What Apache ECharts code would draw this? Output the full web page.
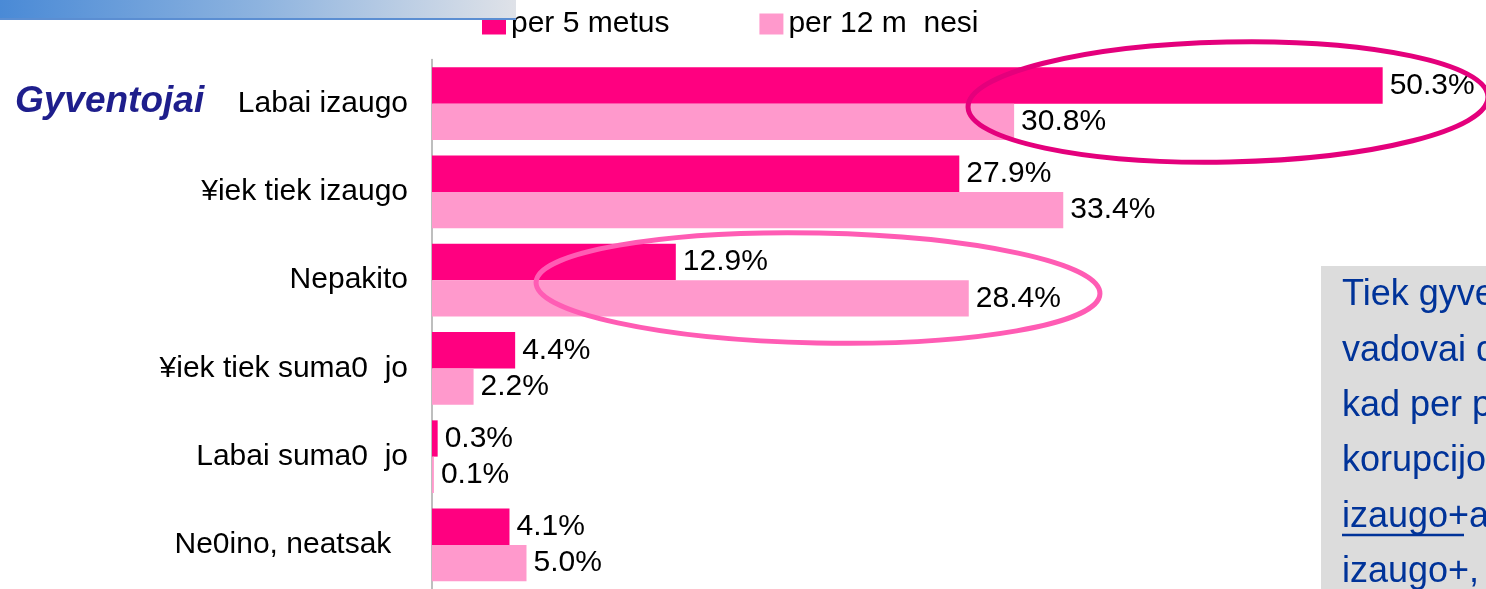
<!DOCTYPE html>
<html>
<head>
<meta charset="utf-8">
<title>Gyventojai</title>
<script src="https://cdn.jsdelivr.net/npm/echarts@6/dist/echarts.min.js"></script>
<style>
  html, body { margin: 0; padding: 0; background: #fff; }
  #chart { width: 1486px; height: 589px; }
</style>
</head>
<body>
<div id="chart"></div>
<script>
(function () {
  'use strict';

  // ==================== 数据 ====================

  var categories = ['Labai izaugo', '¥iek tiek izaugo', 'Nepakito', '¥iek tiek suma0  jo', 'Labai suma0  jo', 'Ne0ino, neatsak  '];
  var seriesNames = ['per 5 metus', 'per 12 m  nesi'];
  var per5Years = [50.3, 27.9, 12.9, 4.4, 0.3, 4.1];
  var per12Months = [30.8, 33.4, 28.4, 2.2, 0.1, 5.0];
  var noteLines = ['Tiek gyve', 'vadovai d', 'kad per p', 'korupcijo', 'izaugo+a', 'izaugo+,'];

  var FONT = '"Liberation Sans", Arial, sans-serif';
  var DARK = '#FF0080';
  var LIGHT = '#FF99CC';

  // ==================== 装饰图形 ====================

  var graphics = [
    // 左上角标题条（被截断）
    {
      type: 'rect', z: 100,
      shape: { x: 0, y: 0, width: 516, height: 19 },
      style: {
        fill: new echarts.graphic.LinearGradient(0, 0, 1, 0, [
          { offset: 0, color: '#4A8AD6' },
          { offset: 0.5, color: '#8DB3DF' },
          { offset: 1, color: '#DFE2E8' }
        ])
      }
    },
    { type: 'rect', z: 100, shape: { x: 0, y: 18, width: 516, height: 2 }, style: { fill: '#5B8ED2' } },
    // Gyventojai
    {
      type: 'text', x: 15, y: 102, z: 10,
      style: {
        text: 'Gyventojai', fill: '#1E1E8C', verticalAlign: 'middle',
        font: 'italic bold 37px ' + FONT
      }
    },
    // 椭圆标注
    {
      type: 'ellipse', x: 1228, y: 102, rotation: 0.02, z: 20,
      shape: { cx: 0, cy: 0, rx: 260, ry: 60 },
      style: { fill: 'none', stroke: '#E4007C', lineWidth: 5 }
    },
    {
      type: 'ellipse', x: 818, y: 288, rotation: -0.02, z: 20,
      shape: { cx: 0, cy: 0, rx: 282, ry: 55 },
      style: { fill: 'none', stroke: '#FF5CB4', lineWidth: 5 }
    },
    // 右侧灰色说明框
    { type: 'rect', z: 5, shape: { x: 1321, y: 266, width: 200, height: 340 }, style: { fill: '#DCDCDC' } }
  ];

  noteLines.forEach(function (line, i) {
    graphics.push({
      type: 'text', x: 1342, y: 308 + i * 55.3 - 12.5, z: 6,
      style: { text: line, fill: '#003399', verticalAlign: 'middle', font: '36px ' + FONT }
    });
  });
  // izaugo+ 下划线
  graphics.push({
    type: 'line', z: 6,
    shape: { x1: 1342, y1: 535, x2: 1464, y2: 535 },
    style: { stroke: '#003399', lineWidth: 2.5 }
  });

  // ==================== 图表 ====================

  var chart = echarts.init(document.getElementById('chart'));

  var labelOpt = {
    show: true,
    position: 'right',
    distance: 7,
    color: '#000',
    fontSize: 30,
    fontFamily: FONT,
    formatter: function (p) { return p.value.toFixed(1) + '%'; }
  };

  chart.setOption({
    animation: false,
    backgroundColor: '#fff',
    legend: {
      data: seriesNames,
      left: 477,
      top: 4,
      itemWidth: 24,
      itemHeight: 21,
      itemGap: 90,
      icon: 'rect',
      textStyle: { color: '#000', fontSize: 30, fontFamily: FONT }
    },
    grid: { left: 432, top: 59.5, width: 1039.5, height: 533, containLabel: false },
    xAxis: { type: 'value', min: 0, max: 55, show: false },
    yAxis: {
      type: 'category',
      data: categories,
      inverse: true,
      axisLine: { lineStyle: { color: '#A8A8A8', width: 1.5 } },
      axisTick: { length: 10, lineStyle: { color: '#A8A8A8', width: 1.5 } },
      axisLabel: { color: '#000', fontSize: 30, fontFamily: FONT, margin: 24 }
    },
    series: [
      {
        name: seriesNames[0], type: 'bar', data: per5Years,
        barGap: '0%', barCategoryGap: '17.8%',
        itemStyle: { color: DARK }, label: labelOpt
      },
      {
        name: seriesNames[1], type: 'bar', data: per12Months,
        barGap: '0%', barCategoryGap: '17.8%',
        itemStyle: { color: LIGHT }, label: labelOpt
      }
    ],
    graphic: graphics
  });

  window.addEventListener('resize', function () { chart.resize(); });
})();
</script>
</body>
</html>
